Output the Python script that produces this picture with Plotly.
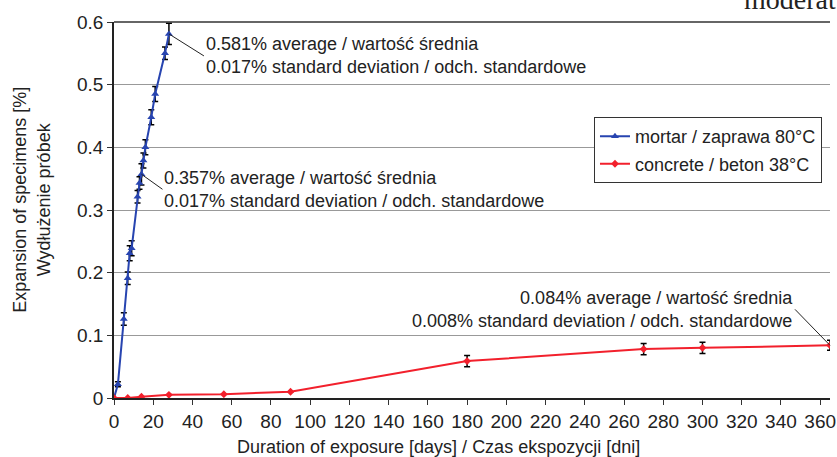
import plotly.graph_objects as go

# Mortar / zaprawa 80°C
mortar_days = [0, 2, 5, 7, 8, 9, 12, 13, 14, 15, 16, 19, 21, 26, 28]
mortar_exp = [0.0, 0.022, 0.126, 0.191, 0.231, 0.239, 0.321, 0.343, 0.357, 0.379, 0.400, 0.448, 0.485, 0.550, 0.581]
mortar_sd = [0.0, 0.004, 0.010, 0.010, 0.012, 0.012, 0.010, 0.010, 0.017, 0.012, 0.012, 0.012, 0.012, 0.010, 0.017]

# Concrete / beton 38°C
concrete_days = [0, 7, 14, 28, 56, 90, 180, 270, 300, 365]
concrete_exp = [0.0, 0.0, 0.002, 0.005, 0.006, 0.010, 0.059, 0.078, 0.080, 0.084]
concrete_sd = [0.0, 0.0, 0.0, 0.0, 0.0, 0.0, 0.009, 0.009, 0.009, 0.008]

x_ticks = list(range(0, 361, 20))
y_ticks = [0, 0.1, 0.2, 0.3, 0.4, 0.5, 0.6]
y_tick_labels = ["0", "0.1", "0.2", "0.3", "0.4", "0.5", "0.6"]

x_title = "Duration of exposure [days] / Czas ekspozycji [dni]"
y_title = "Expansion of specimens [%]<br>Wydłużenie próbek"

FONT = "Liberation Sans, Arial, sans-serif"
TXT = "#222222"

fig = go.Figure()
fig.add_trace(go.Scatter(
    x=mortar_days, y=mortar_exp, mode="lines+markers",
    name="mortar / zaprawa 80°C", legendgroup="a",
    line=dict(color="#2744B0", width=2),
    marker=dict(symbol="triangle-up", size=7, color="#2744B0"),
    error_y=dict(type="data", array=mortar_sd, color="black", thickness=1.5, width=3),
))
fig.add_trace(go.Scatter(
    x=concrete_days, y=concrete_exp, mode="lines+markers",
    name="concrete / beton 38°C", legendgroup="b",
    line=dict(color="#F2202C", width=2),
    marker=dict(symbol="diamond", size=6, color="#F2202C"),
    error_y=dict(type="data", array=concrete_sd, color="black", thickness=1.5, width=3),
))

ann_font = dict(family=FONT, size=18, color=TXT)
fig.add_annotation(x=28, y=0.581, ax=35, ay=22, xanchor="left", yanchor="middle", align="left",
                   text="0.581% average / wartość średnia<br>0.017% standard deviation / odch. standardowe",
                   showarrow=True, arrowhead=0, arrowwidth=1, arrowcolor="#222", font=ann_font)
fig.add_annotation(x=14, y=0.357, ax=21, ay=15, xanchor="left", yanchor="middle", align="left",
                   text="0.357% average / wartość średnia<br>0.017% standard deviation / odch. standardowe",
                   showarrow=True, arrowhead=0, arrowwidth=1, arrowcolor="#222", font=ann_font)
fig.add_annotation(x=365, y=0.084, ax=-35, ay=-36, xanchor="right", yanchor="middle", align="right",
                   text="0.084% average / wartość średnia<br>0.008% standard deviation / odch. standardowe",
                   showarrow=True, arrowhead=0, arrowwidth=1, arrowcolor="#222", font=ann_font)

# axis titles (placed as in the reference, slightly off-centre)
fig.add_annotation(xref="paper", yref="paper", x=0.453, y=-0.129, xanchor="center", yanchor="middle",
                   text=x_title, showarrow=False, font=dict(family=FONT, size=18, color=TXT))
fig.add_annotation(xref="paper", yref="paper", x=-0.1145, y=0.527, xanchor="center", yanchor="middle",
                   text=y_title, textangle=-90, showarrow=False, font=dict(family=FONT, size=18, color=TXT))

# clipped text from surrounding page
fig.add_annotation(xref="paper", yref="paper", x=0.877, y=1.0146, xanchor="left", yanchor="bottom",
                   text="moderat", showarrow=False,
                   font=dict(family="Liberation Serif, Times New Roman, serif", size=28, color="#222"))

# top border line
fig.add_shape(type="line", xref="paper", yref="paper", x0=0, x1=1, y0=1, y1=1,
              line=dict(color="#333", width=1.5))

fig.update_layout(
    width=837, height=457,
    margin=dict(l=114, r=7, t=22, b=59),
    paper_bgcolor="white", plot_bgcolor="white",
    font=dict(family=FONT, size=18, color=TXT),
    legend=dict(x=0.9888, y=0.747, xanchor="right", yanchor="top",
                bordercolor="#333", borderwidth=1, bgcolor="white",
                font=dict(family=FONT, size=18, color=TXT), tracegroupgap=1),
    showlegend=True,
)
fig.update_xaxes(range=[0, 365], tickvals=x_ticks, ticks="outside", ticklen=5, tickcolor="#333",
                 showline=True, linecolor="#222", linewidth=1.5, showgrid=False, zeroline=False,
                 automargin=False, tickfont=dict(size=19, color=TXT))
fig.update_yaxes(range=[0, 0.6], tickvals=y_ticks, ticktext=y_tick_labels, ticks="outside", ticklen=5, tickcolor="#333",
                 showline=True, linecolor="#222", linewidth=1.5, showgrid=True, gridcolor="#999", gridwidth=1,
                 zeroline=False, automargin=False, tickfont=dict(size=19, color=TXT))

fig.write_html("out.html", config={"displayModeBar": False},
               post_script="document.body.style.margin='0';document.body.style.overflow='hidden';")
